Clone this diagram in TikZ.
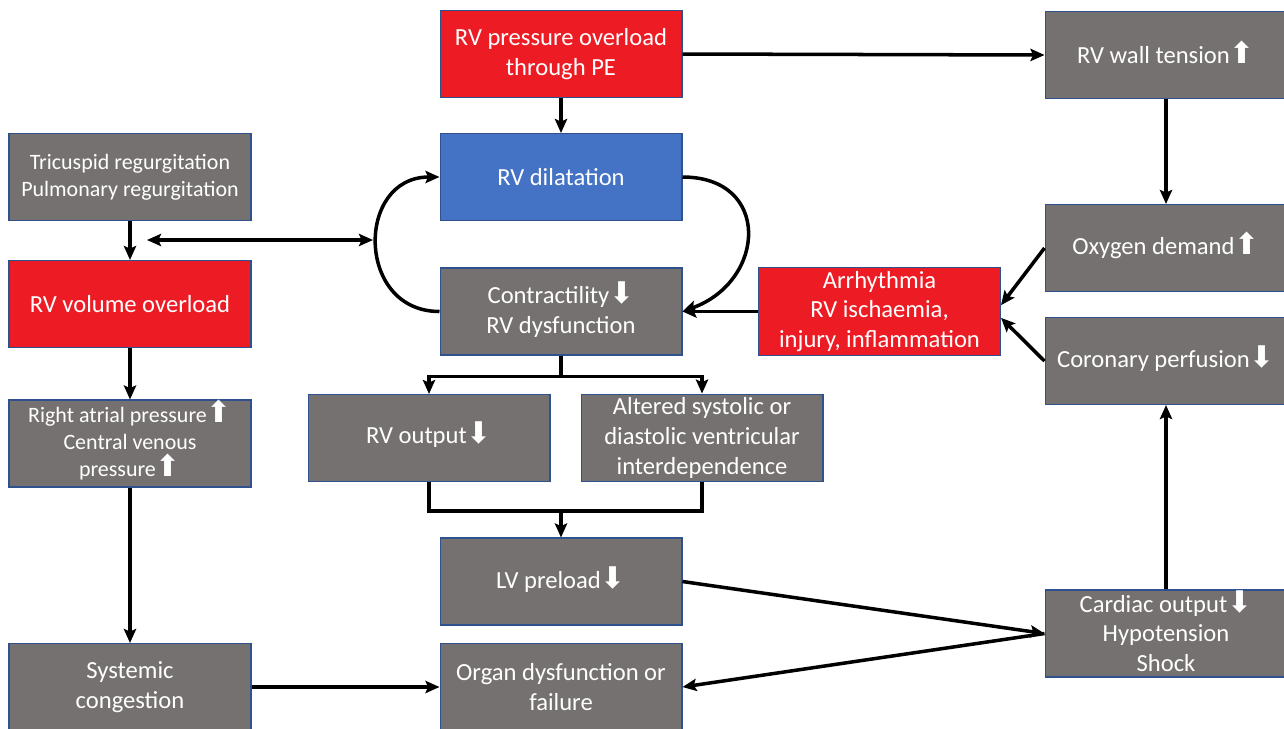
\documentclass[tikz,border=0pt]{standalone}
\usepackage{fontspec}
\setmainfont{Carlito}
\newfontfamily\symfont{DejaVu Sans}
\usetikzlibrary{arrows.meta}
\definecolor{boxgray}{HTML}{767171}
\definecolor{boxred}{HTML}{ED1C24}
\definecolor{boxblue}{HTML}{4472C4}
\definecolor{boxline}{HTML}{2F528F}
\newcommand{\upar}{\smash{\symfont\fontsize{17}{17}\selectfont ⬆}}
\newcommand{\dnar}{\smash{\symfont\fontsize{17}{17}\selectfont ⬇}}

\begin{document}
\begin{tikzpicture}[x=0.02cm, y=-0.02cm,
  font=\fontsize{14}{17}\selectfont,
  >={Stealth[length=8pt,width=7pt,inset=1.5pt]},
  box/.style={draw=boxline, line width=0.6pt, text=white, align=center,
    minimum width=4.84cm, minimum height=1.74cm, inner sep=2pt},
  greybox/.style={box, fill=boxgray},
  redbox/.style={box, fill=boxred},
  bluebox/.style={box, fill=boxblue},
  smalltext/.style={font=\fontsize{12.5}{15.4}\selectfont},
  link/.style={line width=2pt, ->}]
  \useasboundingbox (0,0) rectangle (1284,728);
 	\node[redbox](PE) at (561,54) {RV pressure overload\\through PE};
 	\node[greybox](Wall) at (1166,55) {RV wall tension\upar};
 	\node[bluebox](Dil) at (561,177) {RV dilatation};
 	\node[greybox,smalltext](Regurg) at (130,177) {Tricuspid regurgitation\\Pulmonary regurgitation};
 	\node[redbox](VolOver) at (130,304) {RV volume overload};
 	\node[greybox](Oxy) at (1166,248) {Oxygen demand\upar};
 	\node[greybox](Contr) at (561,311.5) {Contractility\dnar\\RV dysfunction};
 	\node[redbox](Arrh) at (879.5,311.5) {Arrhythmia\\RV ischaemia,\\injury, inflammation};
 	\node[greybox](Coron) at (1166,361) {Coronary perfusion\dnar};
 	\node[greybox,smalltext](RAP) at (130,443.5) {Right atrial pressure\upar\\Central venous\\pressure\upar};
 	\node[greybox](RVout) at (429,438) {RV output\dnar};
 	\node[greybox](Inter) at (702,438) {Altered systolic or\\diastolic ventricular\\interdependence};
 	\node[greybox](LVpre) at (561,581.5) {LV preload\dnar};
 	\node[greybox](CO) at (1166,633.5) {Cardiac output\dnar\\Hypotension\\Shock};
 	\node[greybox](Congest) at (130,687) {Systemic\\congestion};
 	\node[greybox](Organ) at (561,687) {Organ dysfunction or\\failure};
 	\coordinate(GapL) at (147,240);
 	\coordinate(GapR) at (373,240);
 	\draw[link] (PE.east) -- (Wall.west);
 	\draw[link] (PE.south) -- (Dil.north);
 	\draw[link] (Wall.south) -- (Oxy.north);
 	\draw[link] (CO.north) -- (Coron.south);
 	\draw[link] (Oxy.west) -- (Arrh.3);
 	\draw[link] (Coron.west) -- (Arrh.-3);
 	\draw[link] (Arrh.west) -- (Contr.east);
 	\draw[link] (Dil.east) to[out=0,in=20,looseness=1.7] (Contr.east);
 	\draw[link] (Contr.west) to[out=180,in=180,looseness=1.6] (Dil.west);
 	\draw[link,<->] (GapL) -- (GapR);
 	\draw[link] (Regurg.south) -- (VolOver.north);
 	\draw[link] (VolOver.south) -- (RAP.north);
 	\draw[link] (RAP.south) -- (Congest.north);
 	\draw[link] (Congest.east) -- (Organ.west);
 	\draw[link] (Contr.south) -- ++(0,21) -| (RVout.north);
 	\draw[link] (Contr.south) -- ++(0,21) -| (Inter.north);
 	\draw[line width=2pt] (RVout.south) -- ++(0,29) coordinate(Merge) -| (Inter.south);
 	\draw[link] (Merge -| LVpre.north) -- (LVpre.north);
 	\draw[link] (LVpre.east) -- (CO.west);
 	\draw[link] (CO.west) -- (Organ.east);
\end{tikzpicture}
\end{document}
